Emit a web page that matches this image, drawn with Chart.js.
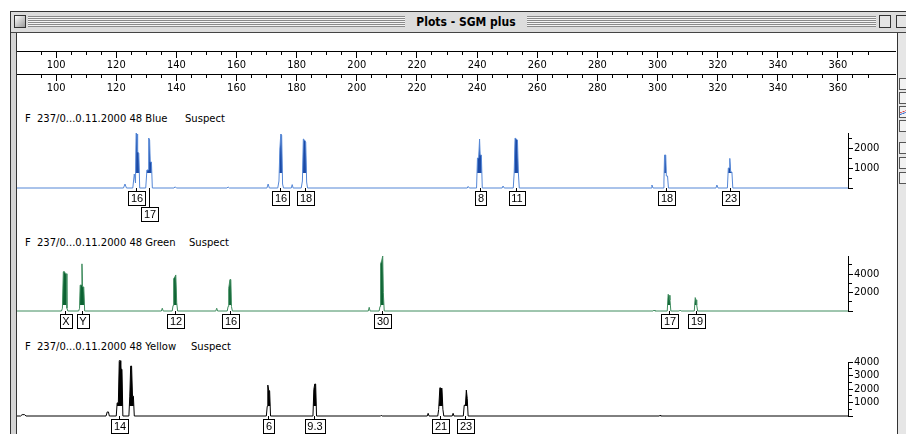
<!DOCTYPE html>
<html>
<head>
<meta charset="utf-8">
<title>Plots - SGM plus</title>
<script src="https://cdn.jsdelivr.net/npm/chart.js@4.4.1/dist/chart.umd.min.js"></script>
<style>
body { margin:0; width:906px; height:434px; overflow:hidden; background:#fff; position:relative; font-family:"DejaVu Sans", sans-serif; }
.abs { position:absolute; }
#win { left:10px; top:11px; width:896px; height:423px; background:#d4d4d4; border-left:1px solid #333; border-top:1px solid #333; }
#titlebar { left:11px; top:12px; width:895px; height:20px; background:#dcdcdc; border-bottom:1px solid #444; }
.stripes { top:16px; height:11px; background:repeating-linear-gradient(to bottom, #8a8a8a 0px, #8a8a8a 1px, #f4f4f4 1px, #f4f4f4 2px); }
#closebox { left:14px; top:15px; width:10px; height:11px; border:1px solid #333; background:linear-gradient(135deg,#fff,#999); }
.zbox { top:15px; width:10px; height:11px; border:1px solid #333; background:#e4e4e4; }
#title { left:405px; top:13px; width:122px; height:18px; background:#dcdcdc; text-align:center; font:bold 12px "DejaVu Sans Condensed", "DejaVu Sans", sans-serif; line-height:18px; color:#000; }
#content { left:16px; top:33px; width:880px; height:401px; background:#fff; border-left:1px solid #333; border-right:1px solid #333; }
#side { left:898px; top:33px; width:8px; height:401px; background:#e6e6e6; }
.icon { left:899px; width:8px; height:10px; border:1px solid #555; background:#f2f2f2; }
.hdr { font-size:10px; color:#000; white-space:nowrap; line-height:12px; }
canvas { position:absolute; }
</style>
</head>
<body>
<div id="win" class="abs"></div>
<div id="titlebar" class="abs"></div>
<div class="abs stripes" style="left:28px;width:377px"></div>
<div class="abs stripes" style="left:527px;width:349px"></div>
<div id="closebox" class="abs"></div>
<div class="abs zbox" style="left:879px"></div>
<div class="abs zbox" style="left:896px"></div>
<div id="title" class="abs">Plots - SGM plus</div>
<div id="content" class="abs"></div>
<div id="side" class="abs"></div>
<div class="abs icon" style="top:78px"></div>
<div class="abs icon" style="top:92px"></div>
<div class="abs icon" style="top:106px;background:linear-gradient(160deg,#f2f2f2 40%,#d33 45%,#f2f2f2 50%,#36c 60%,#f2f2f2 65%)"></div>
<div class="abs icon" style="top:120px"></div>
<div class="abs icon" style="top:142px"></div>
<div class="abs icon" style="top:157px"></div>
<div class="abs icon" style="top:172px"></div>

<canvas id="ruler1" width="879" height="28" style="left:17px;top:43px"></canvas>
<canvas id="ruler2" width="879" height="28" style="left:17px;top:66px"></canvas>

<div class="abs hdr" style="left:25px;top:113px">F</div>
<div class="abs hdr" style="left:37px;top:113px">237/0...0.11.2000 48 Blue</div>
<div class="abs hdr" style="left:185px;top:113px">Suspect</div>
<canvas id="blue" width="876" height="104" style="left:17px;top:126px"></canvas>

<div class="abs hdr" style="left:25px;top:237px">F</div>
<div class="abs hdr" style="left:37px;top:237px">237/0...0.11.2000 48 Green</div>
<div class="abs hdr" style="left:189px;top:237px">Suspect</div>
<canvas id="green" width="876" height="87" style="left:17px;top:249px"></canvas>

<div class="abs hdr" style="left:25px;top:341px">F</div>
<div class="abs hdr" style="left:37px;top:341px">237/0...0.11.2000 48 Yellow</div>
<div class="abs hdr" style="left:191px;top:341px">Suspect</div>
<canvas id="yellow" width="876" height="79" style="left:17px;top:355px"></canvas>

<script>
// size range (bp) shown across the plot area
var sizeMin = 87;
var sizeMax = 363.3;
var rulerMax = 379.3;

// blue dye trace
var blueSize = [87,122.4,122.9,123.4,125.5,126.0,126.4,126.6,126.9,127.1,127.5,127.8,129.8,130.2,130.6,130.8,131.1,131.3,131.7,132.0,139.2,139.6,140.0,156.8,157.2,157.6,170.1,170.5,170.9,173.7,174.1,174.4,174.7,175.0,175.3,175.6,178.2,178.5,178.8,181.5,181.9,182.2,182.6,183.0,183.3,183.6,236.7,237.0,237.4,239.8,240.1,240.5,240.8,241.0,241.4,241.7,248.3,248.6,249.0,252.0,252.3,252.6,253.0,253.4,253.7,254.0,297.8,298.1,298.5,301.8,302.1,302.3,302.7,302.9,303.3,303.6,319.4,319.7,320.1,323.2,323.5,323.8,324.0,324.3,324.7,325.0,363.3];
var blueRfu = [0,0,200,0,0,700,250,2750,2700,1800,1750,0,0,900,900,2500,2400,1300,1300,0,0,60,0,0,50,0,0,200,0,0,350,1950,2700,2650,200,0,0,170,0,0,350,2450,2400,2300,300,0,0,80,0,0,1500,1500,2450,1650,1650,0,0,100,0,0,750,2500,2450,2400,750,0,0,150,0,0,300,1650,1650,600,600,0,0,150,0,0,1000,1000,1480,800,800,0,0];
var blueTicks = [0,500,1000,1500,2000,2500];
var blueCalls = [126.6,130.9,174.6,182.6,240.8,253.0,302.9,324.0];
var blueAlleles = ['16','17','16','18','8','11','18','23'];
var blueRows = [0,1,0,0,0,0,0,0];

// green dye trace
var greenSize = [87,101.8,102.1,102.4,102.8,103.1,103.4,103.6,103.9,107.5,107.8,108.0,108.4,108.6,108.8,109.2,109.5,135.0,135.3,135.6,138.6,138.9,139.1,139.5,139.8,140.1,140.4,153.1,153.4,153.7,156.9,157.2,157.4,157.8,158.1,158.3,158.6,203.8,204.1,204.4,207.4,207.7,207.9,208.3,208.6,208.8,209.1,298.5,298.8,299.1,303.2,303.5,303.8,304.1,304.4,307.2,307.5,307.8,312.2,312.5,312.8,313.0,313.3,363.3];
var greenRfu = [0,0,300,4250,4250,4030,4030,300,0,0,300,2800,2800,5100,2600,2600,0,0,300,0,0,600,3500,3700,3900,900,0,0,300,0,0,500,2450,3400,3400,500,0,0,400,0,0,500,5100,5500,5950,2000,0,0,100,0,0,1800,1700,1200,0,0,100,0,0,1450,1200,650,0,0];
var greenTicks = [0,1000,2000,3000,4000,5000];
var greenCalls = [102.8,108.6,139.6,157.8,208.3,303.9,312.6];
var greenAlleles = ['X','Y','12','16','30','17','19'];
var greenRows = [0,0,0,0,0,0,0];

// yellow dye trace (drawn black)
var yellowSize = [87,88.2,88.7,89.5,90.0,116.6,117.0,117.4,117.7,120.0,120.3,120.7,121.0,121.3,121.5,121.9,122.2,124.2,124.5,124.8,125.1,125.4,125.7,126.0,169.9,170.2,170.4,170.7,171.0,171.3,185.4,185.7,186.0,186.3,186.6,207.9,208.1,208.4,223.4,223.7,224.0,226.9,227.2,227.6,228.0,228.3,228.6,228.9,231.7,232.0,232.3,235.4,235.7,236.1,236.4,236.7,237.0,300.6,300.8,301.0,363.3];
var yellowRfu = [0,0,100,100,0,0,300,300,0,0,970,970,4100,4100,3460,3460,0,0,1470,3700,3700,1470,1470,0,0,720,2290,1870,1870,0,0,1970,2370,2370,0,0,50,0,0,200,0,0,480,2090,2050,2020,500,0,0,200,0,0,800,800,1920,1300,0,0,60,0,0];
var yellowTicks = [0,500,1000,1500,2000,2500,3000,3500,4000];
var yellowCalls = [120.9,170.6,185.9,227.7,236.0];
var yellowAlleles = ['14','6','9.3','21','23'];
var yellowRows = [0,0,0,0,0];

var alleleBoxes = {
	id: 'alleleBoxes',
	afterDatasetsDraw: function(chart, args, opts){
		if (!opts.sizes) { return; }
		var ctx = chart.ctx;
		var xs = chart.scales.x;
		var base = Math.round(chart.scales.y.getPixelForValue(0));
		ctx.save();
		ctx.font = '11px "Liberation Sans", Arial, sans-serif';
		ctx.textAlign = 'center';
		ctx.textBaseline = 'middle';
		ctx.lineWidth = 1;
		ctx.strokeStyle = '#000';
		opts.sizes.forEach(function(s, i){
			var x = Math.round(xs.getPixelForValue(s)) + 0.5;
			var top = base + 3 + opts.rows[i] * 16;
			var w = Math.round(ctx.measureText(opts.names[i]).width + 5);
			var left = Math.round(x - w / 2) + 0.5;
			ctx.beginPath();
			ctx.moveTo(x, base);
			ctx.lineTo(x, top);
			ctx.stroke();
			ctx.fillStyle = '#fff';
			ctx.fillRect(left, top + 0.5, w, 14);
			ctx.strokeRect(left, top + 0.5, w, 14);
			ctx.fillStyle = '#000';
			ctx.fillText(opts.names[i], x + 0.5, top + 8);
		});
		ctx.restore();
	}
};

function tracePoints(sizes, rfu){
	return sizes.map(function(s, i){ return {x: s, y: rfu[i]}; });
}

function init_panel(id, sizes, rfu, tickValues, calls, alleles, rows, lineColor, fillColor, notch, yMax, majorStep, padTop, padBottom){
	var el = document.getElementById(id);
	new Chart(el, {
		type: 'line',
		data: {
			datasets: [{
				data: tracePoints(sizes, rfu),
				borderColor: lineColor,
				borderWidth: 1,
				pointRadius: 0,
				tension: 0,
				clip: false,
				fill: { target: { value: notch }, above: fillColor, below: 'rgba(0,0,0,0)' }
			}]
		},
		options: {
			animation: false,
			responsive: false,
			layout: { padding: { top: padTop, bottom: padBottom, left: 0, right: 0 } },
			scales: {
				x: { type: 'linear', min: sizeMin, max: sizeMax, display: false },
				y: {
					position: 'right',
					min: 0,
					max: yMax,
					afterFit: function(s){ s.width = 45; },
					afterBuildTicks: function(s){ s.ticks = tickValues.map(function(v){ return {value: v}; }); },
					ticks: {
						autoSkip: false,
						padding: 1,
						color: '#000',
						font: { family: 'DejaVu Sans', size: 10 },
						callback: function(v){ return (v > 0 && v % majorStep === 0) ? v : ''; }
					},
					grid: {
						drawOnChartArea: false,
						tickLength: 5,
						tickColor: '#000',
						tickBorderDash: function(ctx){ return (ctx.tick && ctx.tick.value % majorStep === 0) ? [] : [3, 10]; }
					},
					border: { display: true, color: '#000', width: 1 }
				}
			},
			plugins: {
				legend: { display: false },
				tooltip: { enabled: false },
				alleleBoxes: { sizes: calls, names: alleles, rows: rows }
			}
		},
		plugins: [alleleBoxes]
	});
}

function init_ruler(id){
	var el = document.getElementById(id);
	new Chart(el, {
		type: 'line',
		data: { datasets: [{ data: [] }] },
		options: {
			animation: false,
			responsive: false,
			layout: { padding: 0 },
			scales: {
				x: {
					type: 'linear',
					position: 'bottom',
					min: sizeMin,
					max: rulerMax,
					afterFit: function(s){ s.height = 20; },
					afterBuildTicks: function(s){ s.ticks = s.ticks.filter(function(t){ return t.value % 5 === 0; }); },
					ticks: {
						stepSize: 5,
						autoSkip: false,
						maxRotation: 0,
						padding: 1,
						color: '#000',
						font: { family: '"Liberation Sans Narrow", "DejaVu Sans Condensed", sans-serif', size: 11 },
						callback: function(v){ return v % 20 === 0 ? v : ''; }
					},
					grid: {
						drawOnChartArea: false,
						tickLength: 7,
						tickColor: '#000',
						tickBorderDash: function(ctx){ return (ctx.tick && ctx.tick.value % 20 === 0) ? [] : [3, 10]; }
					},
					border: { display: true, color: '#000', width: 1 }
				},
				y: { display: false }
			},
			plugins: { legend: { display: false }, tooltip: { enabled: false } }
		}
	});
}

init_ruler('ruler1');
init_ruler('ruler2');
init_panel('blue', blueSize, blueRfu, blueTicks, blueCalls, blueAlleles, blueRows, '#5587d6', '#1b4aa6', 750, 2750, 1000, 7, 42);
init_panel('green', greenSize, greenRfu, greenTicks, greenCalls, greenAlleles, greenRows, '#3f8c5e', '#0c6232', 650, 5950, 2000, 7, 25);
init_panel('yellow', yellowSize, yellowRfu, yellowTicks, yellowCalls, yellowAlleles, yellowRows, '#000000', '#000000', 750, 4000, 1000, 7, 18);
</script>
</body>
</html>
